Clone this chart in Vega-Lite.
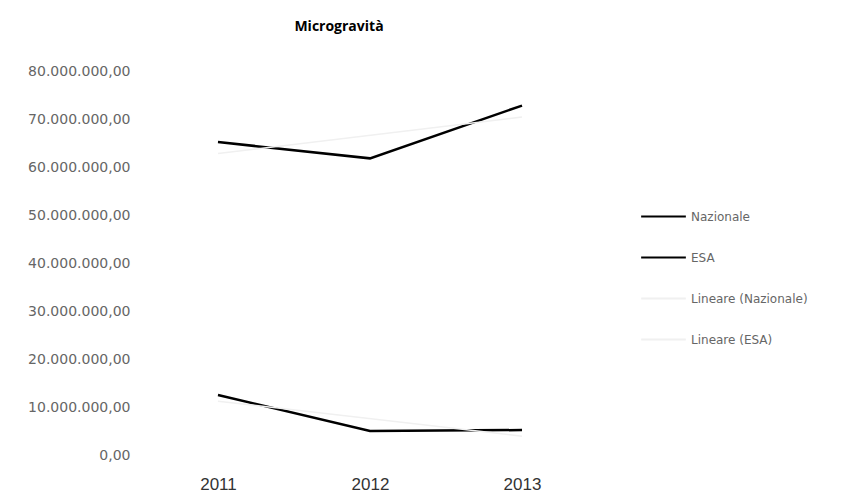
{
  "$schema": "https://vega.github.io/schema/vega-lite/v6.json",
  "autosize": {"type": "none"},
  "width": 460,
  "height": 384,
  "padding": {"left": 140, "top": 71, "right": 243, "bottom": 42},
  "background": "white",
  "config": {
    "locale": {"number": {"decimal": ",", "thousands": ".", "grouping": [3], "currency": ["€", ""]}},
    "view": {"stroke": null},
    "font": "DejaVu Sans"
  },
  "title": {
    "text": "Microgravità",
    "font": "Open Sans",
    "fontWeight": "bold",
    "fontSize": 14,
    "color": "#000000",
    "anchor": "middle",
    "dx": -31,
    "offset": 30
  },
  "data": {
    "values": [
      {"anno": "2011", "x": 2011, "serie": "Nazionale", "valore": 65200000},
      {"anno": "2012", "x": 2012, "serie": "Nazionale", "valore": 61800000},
      {"anno": "2013", "x": 2013, "serie": "Nazionale", "valore": 72800000},
      {"anno": "2011", "x": 2011, "serie": "ESA", "valore": 12500000},
      {"anno": "2012", "x": 2012, "serie": "ESA", "valore": 5000000},
      {"anno": "2013", "x": 2013, "serie": "ESA", "valore": 5200000}
    ]
  },
  "layer": [
    {
      "mark": {"type": "line", "strokeWidth": 2.5},
      "encoding": {
        "x": {"field": "x", "type": "quantitative", "scale": {"domain": [2010.487, 2013.513], "nice": false, "zero": false},
          "axis": {"values": [2011, 2012, 2013], "format": "d", "title": null, "domain": false, "ticks": false, "grid": false,
            "labelFont": "Liberation Sans", "labelFontSize": 17, "labelColor": "#333333", "labelPadding": 21}},
        "y": {"field": "valore", "type": "quantitative",
          "scale": {"domain": [0, 80000000], "nice": false},
          "axis": {"values": [0, 10000000, 20000000, 30000000, 40000000, 50000000, 60000000, 70000000, 80000000],
            "format": ",.2f", "title": null, "domain": false, "ticks": false, "grid": false,
            "labelFont": "DejaVu Sans", "labelFontSize": 14, "labelColor": "#666666", "labelPadding": 10}},
        "color": {"field": "serie", "type": "nominal",
          "scale": {"domain": ["Nazionale", "ESA", "Lineare (Nazionale)", "Lineare (ESA)"], "range": ["#000000", "#000000", "#f0f0f0", "#f0f0f0"]},
          "legend": {"title": null, "orient": "none", "legendX": 500, "legendY": 122,
            "symbolType": "stroke", "symbolSize": 2000, "symbolStrokeWidth": 2, "rowPadding": 11,
            "labelFont": "DejaVu Sans", "labelFontSize": 12, "labelColor": "#666666", "labelOffset": 4}}
      }
    },
    {
      "transform": [
        {"regression": "valore", "on": "x", "groupby": ["serie"], "extent": [2011, 2013]},
        {"lookup": "serie", "from": {"data": {"values": [{"serie": "Nazionale", "trend": "Lineare (Nazionale)"}, {"serie": "ESA", "trend": "Lineare (ESA)"}]}, "key": "serie", "fields": ["trend"]}}
      ],
      "mark": {"type": "line", "strokeWidth": 1.5},
      "encoding": {
        "x": {"field": "x", "type": "quantitative"},
        "y": {"field": "valore", "type": "quantitative"},
        "color": {"field": "trend", "type": "nominal"}
      }
    }
  ]
}
